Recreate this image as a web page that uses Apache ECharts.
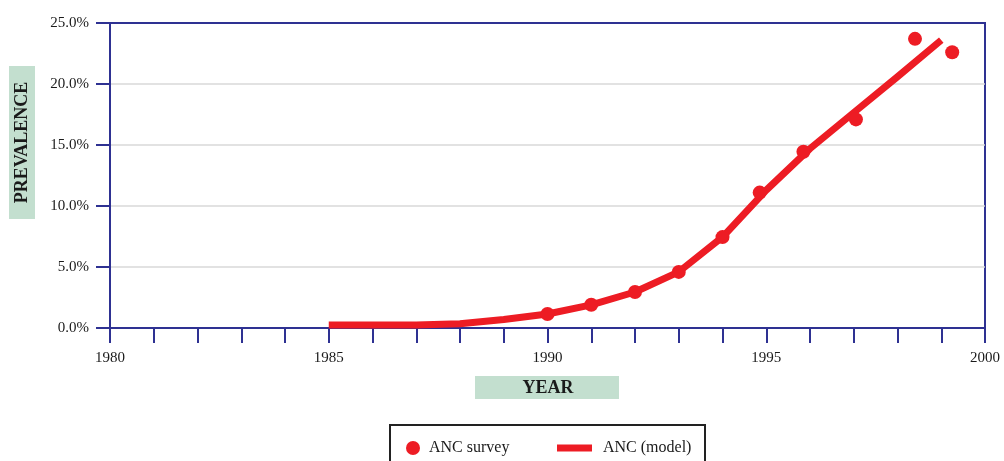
<!DOCTYPE html>
<html>
<head>
<meta charset="utf-8">
<script src="https://cdn.jsdelivr.net/npm/echarts@6/dist/echarts.min.js"></script>
<style>
html,body{margin:0;padding:0;background:#fff;}
#chart{width:1004px;height:461px;}
</style>
</head>
<body>
<div id="chart"></div>
<script>
// Data
const surveyYears = [1990, 1991, 1992, 1993, 1994, 1994.85, 1995.85, 1997.05, 1998.4, 1999.25];
const surveyValues = [1.15, 1.9, 2.95, 4.6, 7.45, 11.1, 14.45, 17.1, 23.7, 22.6];
const modelYears = [1985, 1986, 1987, 1988, 1989, 1990, 1991, 1992, 1993, 1994, 1995, 1996, 1997, 1998, 1999];
const modelValues = [0.25, 0.25, 0.25, 0.35, 0.7, 1.15, 1.9, 2.95, 4.6, 7.45, 11.3, 14.7, 17.65, 20.6, 23.6];
const xLabelYears = [1980, 1985, 1990, 1995, 2000];
const yTicks = [0, 5, 10, 15, 20, 25];
const seriesNames = ['ANC survey', 'ANC (model)'];
const xTitle = 'YEAR';
const yTitle = 'PREVALENCE';

const RED = '#ed1c24';
const BLUE = '#2e3192';
const FONT = '"Liberation Serif", "DejaVu Serif", serif';

const chart = echarts.init(document.getElementById('chart'), null, {renderer: 'canvas'});

const option = {
  animation: false,
  backgroundColor: '#fff',
  grid: {
    left: 110, right: 19, top: 23, bottom: 133,
    show: true, borderColor: BLUE, borderWidth: 2, backgroundColor: 'transparent'
  },
  xAxis: {
    type: 'value', min: 1980, max: 2000, interval: 1,
    axisLine: {lineStyle: {color: BLUE, width: 2}},
    axisTick: {show: true, inside: false, length: 15, lineStyle: {color: BLUE, width: 2}},
    splitLine: {show: false},
    axisLabel: {
      margin: 23, color: '#1a1a1a', fontFamily: FONT, fontSize: 15,
      showMinLabel: true, showMaxLabel: true,
      formatter: function (v) { return xLabelYears.indexOf(Math.round(v)) >= 0 ? String(Math.round(v)) : ''; }
    }
  },
  yAxis: {
    type: 'value', min: yTicks[0], max: yTicks[yTicks.length - 1], interval: 5,
    axisLine: {show: true, lineStyle: {color: BLUE, width: 2}},
    axisTick: {show: true, inside: false, length: 14, lineStyle: {color: BLUE, width: 2}},
    splitLine: {show: true, showMinLine: false, showMaxLine: false, lineStyle: {color: '#d9d9d9', width: 1.5}},
    axisLabel: {
      margin: 21, color: '#1a1a1a', fontFamily: FONT, fontSize: 15,
      formatter: function (v) { return v.toFixed(1) + '%'; }
    }
  },
  legend: [
    {
      data: [{name: seriesNames[0], icon: 'circle'}],
      left: 406, top: 440, padding: 0, itemWidth: 14, itemHeight: 14,
      textStyle: {fontFamily: FONT, fontSize: 16, color: '#1a1a1a', padding: [0, 0, 0, 4]}
    },
    {
      data: [{name: seriesNames[1], icon: 'rect'}],
      left: 557, top: 440, padding: 0, itemWidth: 35, itemHeight: 7,
      textStyle: {fontFamily: FONT, fontSize: 16, color: '#1a1a1a', padding: [0, 0, 0, 6]}
    }
  ],
  graphic: [
    {type: 'rect', left: 9, top: 66, shape: {width: 26, height: 153}, style: {fill: '#c3dfcf'}, z: 0},
    {type: 'text', x: 22, y: 142.5, rotation: Math.PI / 2,
     style: {text: yTitle, fill: '#1a1a1a', font: 'bold 18px ' + FONT, align: 'center', verticalAlign: 'middle'}, z: 1},
    {type: 'rect', left: 475, top: 376, shape: {width: 144, height: 23}, style: {fill: '#c3dfcf'}, z: 0},
    {type: 'text', x: 548, y: 388,
     style: {text: xTitle, fill: '#1a1a1a', font: 'bold 18px ' + FONT, align: 'center', verticalAlign: 'middle'}, z: 1},
    {type: 'rect', shape: {x: 390, y: 425, width: 315, height: 45}, style: {fill: 'none', stroke: '#222', lineWidth: 2}, z: 0}
  ],
  series: [
    {
      name: seriesNames[1], type: 'line',
      data: modelYears.map((y, i) => [y, modelValues[i]]),
      showSymbol: false, smooth: false,
      lineStyle: {color: RED, width: 7, cap: 'butt', join: 'round'},
      itemStyle: {color: RED},
      z: 2
    },
    {
      name: seriesNames[0], type: 'scatter',
      data: surveyYears.map((y, i) => [y, surveyValues[i]]),
      symbol: 'circle', symbolSize: 14,
      itemStyle: {color: RED, opacity: 1},
      z: 3
    }
  ]
};
chart.setOption(option);
</script>
</body>
</html>
